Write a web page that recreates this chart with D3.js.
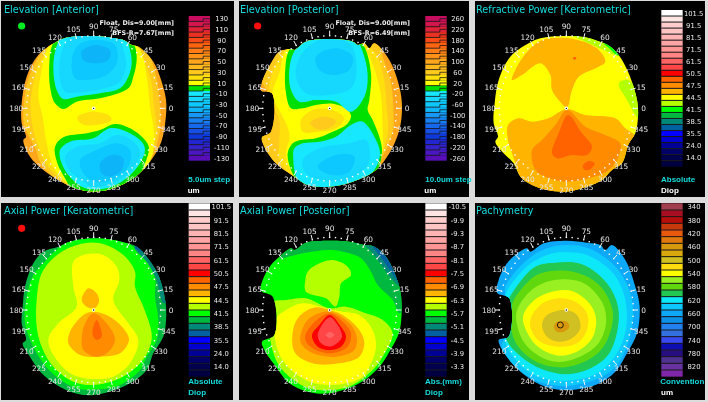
<!DOCTYPE html>
<html><head><meta charset="utf-8">
<script src="https://cdn.jsdelivr.net/npm/d3@7"></script>
<style>html,body{margin:0;padding:0;background:#dcdcdc}svg{display:block}</style></head>
<body><svg id="c" width="708" height="402"></svg>
<script>
// ---- colour bands (top of legend to bottom) ----
const elevColors=["#c8105e","#d41650","#de2038","#ea3022","#f84a14","#ff6410","#ff7c14","#ff9218","#ffa61c","#ffb81e","#ffca1e","#ffe010","#ffff00","#00e000","#18e8ff","#14d8ff","#10c8ff","#10b4f8","#1498f4","#1880f0","#1868ec","#1450e4","#1038dc","#2028d0","#3420c8","#4814c0","#5810b8"];
const keratColors=["#ffffff","#ffe4e4","#ffcccc","#ffc4c4","#ffb4b4","#ffa4a4","#ff9494","#ff8484","#ff6464","#ff4444","#ff0000","#ff6400","#ff8c00","#ffb400","#ffff00","#b4ff00","#00ff00","#00b840","#008878","#0060a0","#0000ff","#0000d0","#000098","#000068","#000050","#000040"];
const pachyColors=["#a04050","#a81020","#b80808","#c83810","#e85810","#e07808","#d89810","#d8a810","#d0c020","#ffdc10","#ffff00","#98f020","#60d810","#20c850","#10e8f8","#08c8ff","#10a8f8","#1090e8","#2080f0","#3070e0","#3848f0","#1010b0","#281080","#503090","#6830a0","#8028a8"];
// ---- legend tick labels ----
const elevAntLabels=["130","110","90","70","50","30","10","-10","-30","-50","-70","-90","-110","-130"];
const elevPostLabels=["260","220","180","140","100","60","20","-20","-60","-100","-140","-180","-220","-260"];
const keratLabels=["101.5","91.5","81.5","71.5","61.5","50.5","47.5","44.5","41.5","38.5","35.5","24.0","14.0"];
const postLabels=["-10.5","-9.9","-9.3","-8.7","-8.1","-7.5","-6.9","-6.3","-5.7","-5.1","-4.5","-3.9","-3.3"];
const pachyLabels=["340","380","420","460","500","540","580","620","660","700","740","780","820"];
const minorAngles=d3.range(0,360,5);
const majorAngles=d3.range(0,360,15);
// ---- map contour outlines, in map units; first value = legend band ----
const outlineElevA=[[170,125],[205,112],[281,108],[350,116],[370,120],[395,135],[415,140],[460,185],[485,245],[498,300],[498,345],[484,425],[450,485],[400,535],[340,565],[281,575],[225,565],[175,540],[130,510],[90,470],[70,420],[78,412],[65,370],[65,310],[80,230],[115,165]];
const regionsElevA=[
[10,[[150,130],[281,95],[430,140],[465,215],[478,300],[480,390],[450,480],[340,578],[220,572],[125,495],[108,450],[85,405],[72,375],[72,310],[90,225]]],
[11,[[130,170],[281,95],[395,130],[450,230],[462,320],[470,400],[445,480],[340,575],[225,565],[145,500],[115,440],[98,380],[92,310],[105,230]]],
[12,[[170,110],[370,110],[420,150],[440,230],[450,320],[462,400],[455,470],[420,525],[340,575],[230,565],[165,510],[140,430],[128,350],[115,290],[125,210],[140,150]]],
[11,[[232,352],[270,336],[325,345],[335,360],[290,375],[245,372]]],
[13,[[148,190],[155,140],[185,95],[281,85],[380,100],[405,140],[410,180],[400,230],[385,265],[300,295],[230,305],[190,327],[165,310],[150,260]]],
[14,[[160,200],[168,145],[195,95],[281,85],[370,100],[390,150],[395,190],[385,230],[360,265],[300,280],[230,290],[190,297],[170,270]]],
[15,[[178,195],[190,140],[225,100],[281,95],[350,105],[372,155],[378,195],[360,245],[300,268],[230,278],[195,275],[180,240]]],
[16,[[215,185],[235,135],[290,120],[345,135],[350,190],[320,225],[260,240],[225,235]]],
[17,[[245,155],[285,135],[330,150],[325,180],[280,190],[250,180]]],
[13,[[165,440],[190,412],[260,400],[300,390],[345,372],[390,385],[435,420],[447,445],[435,490],[410,540],[340,590],[281,600],[230,590],[195,535],[172,490]]],
[14,[[180,450],[210,425],[280,415],[330,385],[380,395],[425,425],[435,450],[420,490],[385,530],[335,560],[281,568],[245,560],[205,525],[185,490]]],
[15,[[195,470],[230,440],[300,430],[350,405],[395,420],[420,455],[395,510],[340,548],[281,560],[235,535],[205,505]]],
[16,[[240,480],[290,450],[350,430],[390,450],[385,500],[335,540],[285,545],[250,520]]],
[17,[[300,490],[335,465],[370,475],[365,510],[330,530],[305,520]]]];
const outlineElevP=[[175,150],[210,125],[281,118],[350,125],[365,135],[385,130],[400,145],[415,130],[460,180],[490,260],[498,320],[490,390],[460,460],[420,510],[350,545],[281,560],[215,555],[175,530],[120,490],[85,440],[78,412],[105,395],[108,280],[75,272],[80,240],[105,190],[130,155],[165,148]];
const regionsElevP=[
[10,[[70,230],[100,170],[170,125],[281,105],[420,125],[445,185],[465,250],[472,320],[470,395],[440,470],[400,540],[260,575],[160,540],[100,480],[60,420],[90,380],[95,280]]],
[11,[[110,215],[170,130],[281,105],[410,150],[440,220],[452,320],[455,400],[430,480],[400,530],[260,560],[165,525],[130,480],[130,420],[130,360],[100,290]]],
[12,[[215,110],[365,120],[400,170],[432,270],[440,400],[440,450],[415,515],[260,550],[180,530],[150,470],[160,400],[115,300],[110,275],[130,220],[150,150]]],
[13,[[148,205],[160,150],[215,105],[281,100],[360,115],[385,140],[405,220],[400,300],[395,330],[410,360],[430,410],[438,450],[425,510],[400,535],[340,565],[281,585],[215,575],[185,545],[165,510],[155,460],[170,430],[195,420],[240,415],[290,395],[330,375],[345,350],[335,330],[295,312],[240,315],[200,325],[165,325],[150,280]]],
[14,[[160,210],[172,160],[215,105],[281,100],[355,110],[380,155],[395,225],[385,290],[345,335],[300,305],[240,300],[190,305],[165,270]]],
[14,[[175,445],[200,430],[250,425],[300,410],[345,375],[380,365],[415,410],[432,460],[415,510],[350,565],[281,585],[210,575],[180,530],[172,480]]],
[15,[[195,165],[250,120],[340,130],[362,200],[345,265],[280,285],[210,280],[180,230]]],
[16,[[240,170],[300,145],[350,170],[340,210],[290,225],[250,210]]],
[15,[[200,480],[250,445],[340,430],[390,420],[398,490],[335,540],[250,540],[210,520]]],
[16,[[245,500],[300,465],[355,470],[340,515],[285,525]]],
[11,[[195,360],[230,330],[290,330],[325,355],[300,385],[250,395],[200,395]]],
[10,[[222,368],[260,350],[300,362],[285,382],[245,388]]]];
const outlineRefr=[[170,130],[205,115],[281,108],[340,112],[375,122],[408,135],[440,165],[470,220],[495,300],[498,350],[490,400],[470,432],[450,490],[420,510],[390,540],[330,565],[281,575],[225,570],[180,555],[145,530],[125,490],[95,460],[70,425],[78,410],[65,370],[68,310],[80,240],[115,170]];
const regionsRefr=[
[15,[[440,250],[468,240],[510,300],[510,365],[490,345],[465,300]]],
[16,[[395,130],[408,125],[445,165],[432,165]]],
[15,[[300,105],[365,115],[400,135],[430,165],[395,150],[340,125]]],
[13,[[120,240],[135,200],[175,145],[210,120],[300,116],[375,145],[400,185],[380,200],[320,230],[300,270],[285,322],[260,300],[240,270],[235,225],[205,190],[150,225]]],
[13,[[283,327],[340,345],[430,355],[460,385],[490,410],[470,445],[450,490],[420,525],[380,550],[330,570],[281,585],[235,582],[180,560],[145,530],[130,490],[120,460],[108,420],[108,375],[140,355],[180,365],[230,355]]],
[12,[[285,330],[340,380],[400,405],[445,430],[440,470],[410,510],[350,535],[281,545],[220,530],[190,510],[180,450],[210,420],[250,375]]],
[11,[[288,345],[330,400],[360,440],[345,465],[300,465],[255,475],[240,460],[260,400]]],
[11,[[332,498],[350,483],[368,490],[355,508],[338,510]]],
[11,[[304,172],[312,172],[312,178],[304,178]]]];
const outlineAxKer=[[175,140],[210,125],[281,115],[340,120],[375,128],[410,140],[440,170],[475,225],[497,310],[497,375],[490,410],[460,460],[440,510],[380,555],[281,585],[225,580],[170,555],[125,520],[90,470],[68,430],[78,420],[65,370],[68,320],[75,260],[100,190],[130,155]];
const regionsAxKer=[
[16,[[130,190],[175,145],[225,115],[281,105],[340,115],[400,140],[445,190],[465,235],[465,290],[475,360],[470,420],[440,470],[420,510],[360,555],[300,568],[230,565],[175,535],[130,490],[95,430],[75,370],[80,290],[100,225]]],
[18,[[405,145],[420,135],[450,165],[480,225],[505,305],[490,310],[470,240],[440,185]]],
[19,[[403,143],[418,135],[445,160],[425,155]]],
[15,[[125,220],[165,170],[230,135],[300,130],[370,165],[405,215],[405,260],[430,320],[455,400],[450,440],[420,490],[360,535],[280,555],[220,545],[160,500],[125,440],[110,380],[110,300]]],
[14,[[220,185],[250,165],[310,165],[350,200],[358,240],[340,300],[385,370],[415,420],[390,490],[340,530],[280,537],[220,525],[170,480],[145,420],[175,370],[230,320],[220,260]]],
[13,[[245,300],[265,265],[290,280],[297,305],[283,325],[260,320]]],
[13,[[280,335],[330,350],[370,385],[387,420],[360,460],[300,470],[240,465],[205,430],[210,395],[250,345]]],
[12,[[280,340],[320,370],[345,420],[320,460],[285,470],[250,450],[245,420],[255,370]]],
[11,[[290,360],[302,385],[305,410],[290,420],[278,405],[280,380]]]];
const outlineAxPost=[[105,195],[130,170],[165,145],[175,150],[210,128],[281,122],[340,125],[385,135],[415,140],[450,170],[490,260],[497,320],[490,395],[460,455],[430,500],[370,550],[281,580],[215,575],[160,550],[120,500],[85,450],[78,425],[115,405],[110,290],[75,272],[80,240]];
const regionsAxPost=[
[17,[[130,175],[175,135],[210,115],[281,110],[340,112],[385,120],[425,135],[460,170],[500,260],[510,320],[490,340],[470,300],[425,255],[405,215],[375,175],[340,160],[281,150],[200,160]]],
[18,[[385,130],[415,130],[455,165],[500,265],[470,240],[440,200],[410,160]]],
[19,[[410,137],[425,130],[465,180],[500,265],[465,215],[430,165]]],
[15,[[215,215],[240,195],[290,180],[335,200],[345,225],[315,250],[310,290],[298,320],[270,295],[210,275],[208,240]]],
[15,[[100,310],[150,300],[210,295],[281,325],[330,320],[390,340],[440,360],[470,400],[440,470],[410,510],[350,555],[290,570],[220,565],[160,530],[125,490],[105,430]]],
[14,[[118,360],[150,330],[200,310],[281,328],[320,335],[370,345],[410,390],[420,440],[405,490],[380,530],[330,550],[281,555],[220,545],[160,505],[125,450]]],
[13,[[175,375],[200,340],[240,322],[281,330],[320,345],[370,390],[385,430],[370,470],[310,490],[230,490],[175,455]]],
[12,[[195,400],[220,355],[281,335],[340,370],[362,410],[355,450],[300,470],[230,460],[195,430]]],
[11,[[210,400],[240,362],[281,340],[320,365],[345,400],[335,440],[281,460],[230,445],[208,420]]],
[10,[[228,405],[250,375],[281,345],[315,380],[330,410],[315,440],[281,450],[245,440]]],
[9,[[245,405],[265,365],[282,352],[305,375],[318,410],[300,432],[280,440],[255,430]]],
[8,[[270,405],[282,396],[295,405],[282,414]]]];
const outlinePachy=[[75,278],[80,240],[105,190],[130,165],[165,145],[175,155],[215,130],[283,122],[345,128],[385,135],[400,150],[420,135],[460,180],[490,260],[503,320],[495,400],[465,460],[430,515],[370,555],[285,570],[220,560],[165,530],[120,490],[80,420],[110,410],[112,295]];
const regionsPachy=[
[15,[[100,260],[165,180],[225,145],[283,135],[350,145],[435,205],[480,300],[475,405],[435,495],[380,535],[285,558],[200,545],[135,505],[90,445],[100,400],[100,290]]],
[14,[[100,285],[170,195],[235,162],[283,157],[350,167],[425,222],[460,300],[460,397],[425,475],[370,523],[285,542],[200,530],[135,485],[100,425],[100,340]]],
[13,[[100,325],[130,265],[190,200],[250,188],[330,193],[405,250],[438,320],[436,392],[408,465],[350,508],[285,523],[210,508],[145,468],[100,412]]],
[12,[[118,320],[150,265],[200,222],[283,212],[350,232],[398,275],[423,340],[413,402],[382,455],[320,492],[260,502],[190,484],[128,422]]],
[11,[[133,340],[170,278],[220,247],[283,238],[340,252],[392,310],[402,370],[378,432],[320,472],[260,486],[200,467],[153,422]]],
[10,[[153,350],[190,298],[250,273],[300,273],[352,310],[372,355],[362,412],[320,452],[260,467],[200,442],[168,402]]],
[9,[[175,360],[205,315],[260,295],[310,305],[345,340],[345,390],[315,430],[260,440],[205,425],[180,395]]],
[8,[[210,375],[225,345],[280,330],[315,345],[325,385],[300,415],[260,425],[225,410]]],
[6,[[245,380],[255,365],[285,365],[292,380],[275,395],[255,395]]]];

const panels=[
{px:0,py:0,title:"Elevation [Anterior]",colors:elevColors,labels:elevAntLabels,base:8,outline:outlineElevA,regions:regionsElevA,cx:281,cy:325,bandY:[48,482],barX:[566,630],labelX:665,stair:true,dot:"#00ee20",dotY:78,info:["Float, Dis=9.00[mm]","BFS-R=7.67[mm]"],foot:[["5.0um step","#14dcdc",565,546],["um","#fff",563,578]],titleY:40},
{px:236,py:0,title:"Elevation [Posterior]",colors:elevColors,labels:elevPostLabels,base:8,outline:outlineElevP,regions:regionsElevP,cx:281,cy:325,bandY:[48,482],barX:[568,632],labelX:665,stair:true,dot:"#ff1010",dotY:78,info:["Float, Dis=9.00[mm]","BFS-R=6.49[mm]"],foot:[["10.0um step","#14dcdc",568,546],["um","#fff",565,578]],titleY:40},
{px:472,py:0,title:"Refractive Power [Keratometric]",colors:keratColors,labels:keratLabels,base:14,outline:outlineRefr,regions:regionsRefr,cx:283,cy:325,bandY:[30,500],barX:[568,632],labelX:665,foot:[["Absolute","#14dcdc",567,546],["Diop","#fff",567,578]],titleY:40},
{px:0,py:200,title:"Axial Power [Keratometric]",colors:keratColors,labels:keratLabels,base:17,outline:outlineAxKer,regions:regionsAxKer,cx:281,cy:330,bandY:[10,530],barX:[566,630],labelX:664,dot:"#ff1010",dotY:85,foot:[["Absolute","#14dcdc",565,552],["Diop","#14dcdc",565,584]],titleY:43},
{px:236,py:200,title:"Axial Power [Posterior]",colors:keratColors,labels:postLabels,base:16,outline:outlineAxPost,regions:regionsAxPost,cx:281,cy:330,bandY:[10,530],barX:[568,632],labelX:664,foot:[["Abs.(mm)","#14dcdc",567,552],["Diop","#14dcdc",567,584]],titleY:43},
{px:472,py:200,title:"Pachymetry",colors:pachyColors,labels:pachyLabels,base:16,outline:outlinePachy,regions:regionsPachy,cx:283,cy:330,bandY:[10,530],barX:[568,632],labelX:666,ring:[265,375],foot:[["Convention","#14dcdc",565,552],["um","#fff",567,584]],titleY:43}];

const frames=[[1,1,233,196],[239,1,230,196],[475,1,230,196],[1,203,232,197],[239,203,230,197],[475,203,230,197]];
const svg=d3.select("#c");
const defs=svg.append("defs");
defs.append("filter").attr("id","soft").append("feGaussianBlur").attr("stdDeviation",0.35);
const root=svg.append("g").attr("filter","url(#soft)");
const FONT="'DejaVu Sans',sans-serif";
const FOOT="'Liberation Sans',sans-serif";

panels.forEach((p,pi)=>{
  const f=frames[pi];
  const g=root.append("g");
  g.append("rect").attr("x",f[0]).attr("y",f[1]).attr("width",f[2]).attr("height",f[3]).attr("fill","#000");
  const x=d3.scaleLinear().domain([0,708]).range([p.px,p.px+236]);
  const y=d3.scaleLinear().domain([0,600]).range([p.py,p.py+200]);
  const color=i=>p.colors[i];
  const smooth=d3.line().x(d=>x(d[0])).y(d=>y(d[1])).curve(d3.curveCatmullRomClosed.alpha(0.5));
  const clipId="clip"+pi;
  defs.append("clipPath").attr("id",clipId).append("path").attr("d",smooth(p.outline));
  g.append("path").attr("d",smooth(p.outline)).attr("fill",color(p.base));
  g.append("g").attr("clip-path",`url(#${clipId})`).selectAll("path").data(p.regions).join("path")
    .attr("d",d=>smooth(d[1])).attr("fill",d=>color(d[0]));
  // angular axis
  const rx=d3.scaleLinear().domain([0,1]).range([0,x(p.cx+201)-x(p.cx)]);
  const ry=d3.scaleLinear().domain([0,1]).range([0,y(p.cy+218)-y(p.cy)]);
  const px=(a,r)=>x(p.cx)+rx(r)*Math.cos(a*Math.PI/180);
  const py=(a,r)=>y(p.cy)-ry(r)*Math.sin(a*Math.PI/180);
  g.append("g").selectAll("rect").data(minorAngles).join("rect")
    .attr("x",a=>px(a,1)-0.7).attr("y",a=>py(a,1)-0.7).attr("width",1.4).attr("height",1.4).attr("fill","#fff");
  g.append("g").selectAll("line").data(majorAngles).join("line")
    .attr("x1",a=>px(a,1)).attr("y1",a=>py(a,1)).attr("x2",a=>px(a,1.07)).attr("y2",a=>py(a,1.07))
    .attr("stroke","#f4f4f4").attr("stroke-width",1);
  g.append("g").selectAll("text").data(majorAngles).join("text")
    .attr("x",a=>px(a,1.155)).attr("y",a=>py(a,1.125)+2.8)
    .attr("text-anchor","middle").attr("font-family",FONT).attr("font-size",7.4).attr("fill","#e4e4e4").text(a=>a);
  // apex marker
  g.append("circle").attr("cx",x(p.cx)).attr("cy",y(p.cy)).attr("r",1.8).attr("fill","#fff");
  g.append("circle").attr("cx",x(p.cx)).attr("cy",y(p.cy)).attr("r",0.7).attr("fill","#000");
  if(p.ring) g.append("circle").attr("cx",x(p.ring[0])).attr("cy",y(p.ring[1])).attr("r",3).attr("fill","none").attr("stroke","#111").attr("stroke-width",0.9);
  if(p.dot) g.append("circle").attr("cx",x(65)).attr("cy",y(p.dotY)).attr("r",3.6).attr("fill",p.dot);
  // title + info
  g.append("text").attr("x",x(12)).attr("y",y(p.titleY)).attr("font-family",FONT).attr("font-size",9.7).attr("fill","#14dcdc").text(p.title);
  (p.info||[]).forEach((t,i)=>g.append("text").attr("x",x(522)).attr("y",y(75+i*29)).attr("text-anchor","end").attr("font-family",FONT).attr("font-size",6.4).attr("font-weight","bold").attr("fill","#eee").text(t));
  // legend
  const n=p.colors.length;
  const band=d3.scaleBand().domain(d3.range(n)).range(p.bandY);
  const bw=x(p.barX[1])-x(p.barX[0]);
  const lg=g.append("g");
  lg.selectAll("rect").data(p.colors).join("rect")
    .attr("x",x(p.barX[0])).attr("y",(d,i)=>y(band(i))).attr("width",bw).attr("height",y(band.bandwidth())-y(0)).attr("fill",d=>d);
  const by=i=>y(band(i))+(y(band.bandwidth())-y(0));
  if(p.stair){
    const xm=x(p.barX[0])+bw*0.68, off=(y(band.bandwidth())-y(0))/2;
    const stairs=d3.range(n-1);
    lg.selectAll("line.a").data(stairs).join("line").attr("class","a").attr("x1",x(p.barX[0])).attr("x2",xm).attr("y1",by).attr("y2",by).attr("stroke","#1a1a1a").attr("stroke-width",0.8);
    lg.selectAll("line.b").data(stairs).join("line").attr("class","b").attr("x1",xm).attr("x2",x(p.barX[1])).attr("y1",i=>by(i)-off).attr("y2",i=>by(i)-off).attr("stroke","#1a1a1a").attr("stroke-width",0.8);
    lg.selectAll("line.c").data(stairs).join("line").attr("class","c").attr("x1",xm).attr("x2",xm).attr("y1",i=>by(i)-off).attr("y2",by).attr("stroke","#1a1a1a").attr("stroke-width",0.8);
  } else {
    lg.selectAll("line.a").data(d3.range(n-1)).join("line").attr("class","a").attr("x1",x(p.barX[0])).attr("x2",x(p.barX[1])).attr("y1",by).attr("y2",by).attr("stroke","#1a1a1a").attr("stroke-width",1);
  }
  lg.selectAll("text").data(p.labels).join("text")
    .attr("x",x(p.labelX)).attr("y",(d,i)=>y(band(2*i))+(y(band.bandwidth())-y(0))/2+2.6)
    .attr("text-anchor","middle").attr("font-family",FONT).attr("font-size",6.8).attr("fill","#e8e8e8").text(d=>d);
  p.foot.forEach(t=>g.append("text").attr("x",x(t[2])).attr("y",y(t[3])).attr("font-family",FOOT).attr("font-size",8).attr("font-weight","bold").attr("fill",t[1]).text(t[0]));
});
</script></body></html>
